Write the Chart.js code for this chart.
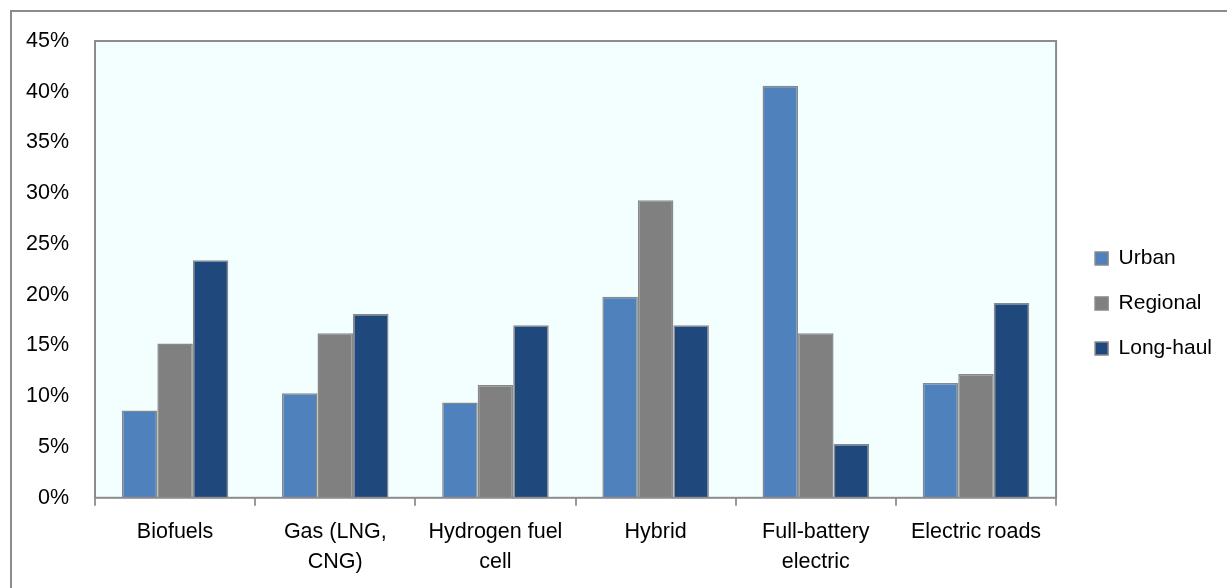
<!DOCTYPE html>
<html>
<head>
<meta charset="utf-8">
<script src="https://cdn.jsdelivr.net/npm/chart.js@4/dist/chart.umd.min.js"></script>
<style>
  html, body { margin: 0; padding: 0; background: #fff; }
  #wrap { width: 1227px; height: 588px; }
</style>
</head>
<body>
<div id="wrap"><canvas id="canvas" width="1227" height="588"></canvas></div>
<script>
var categories = [['Biofuels'], ['Gas (LNG,', 'CNG)'], ['Hydrogen fuel', 'cell'], ['Hybrid'], ['Full-battery', 'electric'], ['Electric roads']];
var urban = [8.6, 10.3, 9.4, 19.8, 40.6, 11.3];
var regional = [15.2, 16.2, 11.1, 29.3, 16.2, 12.2];
var longHaul = [23.4, 18.1, 17.0, 17.0, 5.3, 19.2];
var yTicks = [0, 5, 10, 15, 20, 25, 30, 35, 40, 45];

var axisFont = { family: "'Liberation Sans', Arial, sans-serif", size: 21.5, lineHeight: 1.4 };
var legendFont = { family: "'Liberation Sans', Arial, sans-serif", size: 21 };

// plot background, plot border and the outer frame
var framePlugin = {
    id: 'frame',
    afterLayout: function(chart) {
        // nudge the legend to where the original has it
        chart.legend.left += 15;
        chart.legend.right += 15;
        chart.legend.top -= 11;
        chart.legend.bottom -= 11;
    },
    beforeDraw: function(chart) {
        var ctx = chart.ctx, a = chart.chartArea;
        ctx.save();
        ctx.strokeStyle = '#8c8c8c';
        ctx.lineWidth = 2;
        ctx.beginPath();
        ctx.moveTo(11, 588);
        ctx.lineTo(11, 11);
        ctx.lineTo(1227, 11);
        ctx.stroke();
        ctx.fillStyle = '#f3ffff';
        ctx.fillRect(a.left, a.top, a.right - a.left, a.bottom - a.top);
        ctx.restore();
    },
    afterDatasetsDraw: function(chart) {
        var ctx = chart.ctx, a = chart.chartArea;
        ctx.save();
        ctx.strokeStyle = '#8c8c8c';
        ctx.lineWidth = 2;
        ctx.strokeRect(a.left, a.top, a.right - a.left, a.bottom - a.top);
        ctx.restore();
    }
};

var barChartData = {
    labels: categories,
    datasets: [{
        label: 'Urban',
        backgroundColor: '#4f81bd',
        borderColor: '#888888',
        borderWidth: 1.5,
        data: urban
    }, {
        label: 'Regional',
        backgroundColor: '#808080',
        borderColor: '#888888',
        borderWidth: 1.5,
        data: regional
    }, {
        label: 'Long-haul',
        backgroundColor: '#1f497d',
        borderColor: '#888888',
        borderWidth: 1.5,
        data: longHaul
    }]
};

window.onload = function() {
    var ctx = document.getElementById('canvas').getContext('2d');
    window.myBar = new Chart(ctx, {
        type: 'bar',
        data: barChartData,
        plugins: [framePlugin],
        options: {
            responsive: false,
            animation: false,
            layout: { padding: { top: 41, left: 10, right: 20, bottom: 0 } },
            datasets: { bar: { categoryPercentage: 0.665, barPercentage: 1 } },
            plugins: {
                legend: {
                    position: 'right',
                    align: 'center',
                    labels: {
                        boxWidth: 13,
                        boxHeight: 13,
                        padding: 24,
                        color: '#000',
                        font: legendFont
                    }
                },
                tooltip: { enabled: false }
            },
            scales: {
                x: {
                    offset: true,
                    grid: { offset: true, drawOnChartArea: false, color: '#999', lineWidth: 2, tickLength: 8 },
                    border: { display: false },
                    ticks: { color: '#000', font: axisFont, padding: 11, maxRotation: 0 }
                },
                y: {
                    min: 0,
                    max: 45,
                    afterBuildTicks: function(scale) {
                        scale.ticks = yTicks.map(function(v) { return { value: v }; });
                    },
                    afterFit: function(scale) { scale.width = 85; },
                    grid: { display: false },
                    border: { display: false },
                    ticks: {
                        color: '#000',
                        font: axisFont,
                        padding: 18,
                        callback: function(v) { return v + '%'; }
                    }
                }
            }
        }
    });
};
</script>
</body>
</html>
